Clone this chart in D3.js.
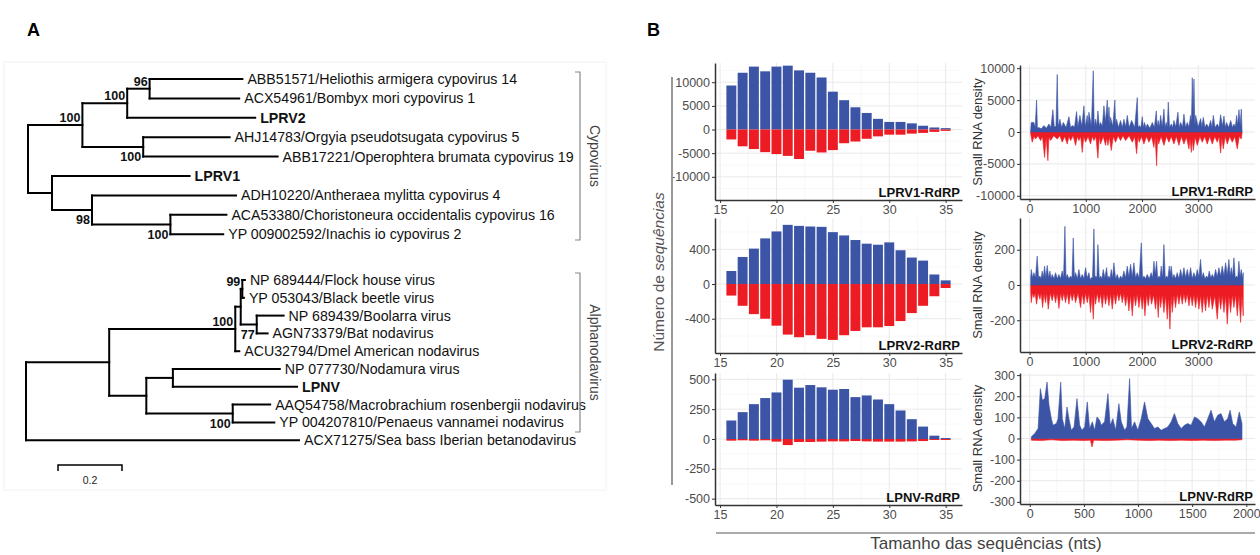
<!DOCTYPE html>
<html lang="pt">
<head>
<meta charset="UTF-8">
<title>Filogenia e perfis de pequenos RNAs</title>
<script src="https://cdn.jsdelivr.net/npm/d3@7"></script>
<style>
  body { margin: 0; background: #fff; }
  svg { font-family: "Liberation Sans", Arial, sans-serif; }
  .branch { fill: none; stroke: #000; stroke-width: 2px; stroke-linecap: square; }
  .leaf { font-size: 14.2px; fill: #111; }
  .leaf.bold { font-weight: bold; }
  .boot { font-size: 12.5px; font-weight: bold; fill: #111; }
  .bracket { fill: none; stroke: #888; stroke-width: 1.2px; }
  .clade { font-size: 14px; fill: #444; }
  .plabel { font-size: 18px; font-weight: bold; fill: #000; }
  .grid line { stroke: #e9e9e9; stroke-width: 1px; }
  .grid .domain { display: none; }
  .minor line { stroke: #f4f4f4; stroke-width: 0.6px; }
  .axis .domain { stroke: #333; stroke-width: 1.5px; }
  .axis line { stroke: #333; }
  .axis text { fill: #4d4d4d; font-size: 12.5px; font-family: "Liberation Sans", Arial, sans-serif; }
  .ptitle { font-size: 13px; font-weight: bold; fill: #111; }
  .ytitle { font-size: 13px; fill: #333; }
</style>
</head>
<body>
<svg id="fig" width="1260" height="555"></svg>
<script>

// ---- panel A: trees as [node, parent, branch length, bootstrap] ----
var cypoEdges = [
  ["root", "", 0, ""],
  ["n1", "root", 0.17, "100"],
  ["n2", "n1", 0.14, "100"],
  ["n3", "n2", 0.07, "96"],
  ["ABB51571/Heliothis armigera cypovirus 14", "n3", 0.29, ""],
  ["ACX54961/Bombyx mori cypovirus 1", "n3", 0.28, ""],
  ["LPRV2", "n2", 0.40, ""],
  ["n4", "n1", 0.19, "100"],
  ["AHJ14783/Orgyia pseudotsugata cypovirus 5", "n4", 0.27, ""],
  ["ABB17221/Operophtera brumata cypovirus 19", "n4", 0.42, ""],
  ["n5", "root", 0.075, ""],
  ["LPRV1", "n5", 0.43, ""],
  ["n6", "n5", 0.125, "98"],
  ["ADH10220/Antheraea mylitta cypovirus 4", "n6", 0.45, ""],
  ["n7", "n6", 0.245, "100"],
  ["ACA53380/Choristoneura occidentalis cypovirus 16", "n7", 0.175, ""],
  ["YP 009002592/Inachis io cypovirus 2", "n7", 0.165, ""]
];

var alphaEdges = [
  ["root", "", 0, ""],
  ["m1", "root", 0.26, ""],
  ["m2", "m1", 0.394, "100"],
  ["m3", "m2", 0.017, ""],
  ["m4", "m3", 0.005, "99"],
  ["NP 689444/Flock house virus", "m4", 0.008, ""],
  ["YP 053043/Black beetle virus", "m4", 0.005, ""],
  ["m5", "m3", 0.05, "77"],
  ["NP 689439/Boolarra virus", "m5", 0.084, ""],
  ["AGN73379/Bat nodavirus", "m5", 0.034, ""],
  ["ACU32794/Dmel American nodavirus", "m2", 0.0125, ""],
  ["m6", "m1", 0.116, ""],
  ["m7", "m6", 0.083, ""],
  ["NP 077730/Nodamura virus", "m7", 0.334, ""],
  ["LPNV", "m7", 0.388, ""],
  ["m8", "m6", 0.27, "100"],
  ["AAQ54758/Macrobrachium rosenbergii nodavirus", "m8", 0.117, ""],
  ["YP 004207810/Penaeus vannamei nodavirus", "m8", 0.13, ""],
  ["ACX71275/Sea bass Iberian betanodavirus", "root", 0.853, ""]
];

var boldLeaves = ["LPRV1", "LPRV2", "LPNV"];
var bootBelow = ["n4", "n6", "n7", "m5", "m8"];
var scaleBarValue = 0.2;

// ---- panel B: read counts by size (nt), sense (+) and antisense (-) ----
var sizes = [16,17,18,19,20,21,22,23,24,25,26,27,28,29,30,31,32,33,34,35];

var lprv1Pos = [9300,12000,13300,12300,13300,13500,12500,12000,11000,8000,6200,4700,3500,2250,1600,1600,1300,800,430,290];
var lprv1Neg = [-2100,-3550,-4130,-4780,-5200,-5580,-6230,-4490,-4850,-4350,-2900,-2540,-1960,-1450,-1090,-1090,-870,-720,-500,-290];

var lprv2Pos = [150,312,408,526,606,682,670,663,659,598,560,507,465,453,480,389,305,270,110,42];
var lprv2Neg = [-133,-251,-347,-400,-480,-583,-613,-590,-632,-644,-590,-541,-499,-499,-484,-427,-335,-251,-141,-46];

var lpnvPos = [155,225,292,343,390,497,430,452,433,413,419,351,365,331,292,239,166,104,28,8];
var lpnvNeg = [-14,-11,-14,-11,-22,-51,-25,-25,-22,-20,-20,-17,-20,-22,-22,-22,-20,-17,-8,-8];

// ---- panel B: small RNA density along the genome, [position, density] ----
var lprv1Sense = [[20,300],[30,1500],[77,1500],[100,700],[125,5000],[140,600],[166,700],[210,500],[255,1000],[300,600],[344,1250],[380,700],[415,3500],[440,800],[470,900],[492,9000],[510,800],[540,2000],[570,700],[600,1500],[650,700],[700,2400],[730,700],[760,1000],[800,800],[836,3200],[860,800],[896,2600],[930,900],[967,4100],[990,800],[1026,2600],[1040,1000],[1056,3100],[1100,900],[1133,9600],[1150,900],[1174,2000],[1195,900],[1216,3300],[1240,900],[1263,1500],[1295,900],[1323,4100],[1350,1500],[1382,5000],[1400,1500],[1412,3900],[1430,1000],[1441,2300],[1480,900],[1518,5000],[1530,1000],[1548,2000],[1580,700],[1619,1800],[1650,700],[1679,2000],[1710,800],[1738,2600],[1770,700],[1815,1800],[1870,700],[1916,5400],[1930,700],[1951,1000],[1980,700],[2005,2400],[2025,700],[2046,1500],[2070,600],[2094,1250],[2140,600],[2183,1500],[2220,700],[2254,3300],[2270,800],[2289,1800],[2310,800],[2331,2600],[2360,800],[2390,3600],[2410,700],[2432,1500],[2450,800],[2467,4700],[2490,700],[2521,1250],[2545,700],[2568,1800],[2600,800],[2639,3100],[2660,700],[2687,1500],[2720,800],[2746,2800],[2775,700],[2805,1500],[2835,800],[2865,2600],[2880,1500],[2894,8500],[2910,3000],[2924,8300],[2940,1000],[2954,2600],[3000,800],[3043,2100],[3065,800],[3090,2300],[3120,700],[3149,1250],[3185,700],[3221,1800],[3245,700],[3268,2600],[3300,700],[3339,1250],[3370,700],[3399,2700],[3430,900],[3458,2500],[3480,700],[3505,1500],[3540,700],[3577,1800],[3610,700],[3636,1250],[3660,800],[3683,2600],[3700,1000],[3725,3500],[3745,1000],[3766,3600],[3780,200]];
var lprv1Anti = [[20,-300],[47,-1600],[80,-700],[107,-1100],[150,-600],[196,-1350],[230,-700],[267,-4000],[295,-800],[326,-4500],[345,-800],[374,-1350],[430,-600],[492,-1100],[540,-600],[581,-1600],[625,-700],[670,-1900],[700,-700],[730,-1350],[775,-600],[819,-2100],[850,-700],[878,-1350],[910,-700],[937,-3200],[965,-700],[996,-1600],[1040,-700],[1085,-1900],[1115,-700],[1145,-1350],[1180,-700],[1216,-4100],[1240,-700],[1263,-1900],[1310,-700],[1352,-2100],[1372,-900],[1394,-2100],[1420,-800],[1453,-2900],[1490,-700],[1530,-1600],[1575,-600],[1619,-1350],[1660,-600],[1708,-1350],[1770,-600],[1827,-1600],[1870,-700],[1904,-3400],[1930,-700],[1951,-1600],[1990,-700],[2034,-1900],[2080,-700],[2123,-1600],[2170,-700],[2212,-2400],[2235,-800],[2260,-5300],[2278,-800],[2295,-1900],[2340,-700],[2390,-2100],[2435,-700],[2479,-1600],[2520,-700],[2568,-1900],[2610,-700],[2657,-2100],[2700,-700],[2746,-1900],[2790,-800],[2835,-2650],[2855,-1000],[2877,-3200],[2895,-1000],[2912,-2900],[2945,-800],[2983,-2100],[3030,-700],[3072,-1600],[3115,-700],[3161,-1900],[3205,-700],[3250,-1900],[3295,-700],[3339,-1600],[3370,-700],[3399,-3300],[3420,-900],[3446,-2650],[3480,-700],[3517,-1900],[3560,-700],[3606,-1600],[3650,-700],[3695,-2650],[3730,-700],[3766,-1100],[3780,-200]];

var lprv2Sense = [[20,40],[30,88],[55,40],[77,70],[105,40],[136,164],[160,40],[184,51],[205,35],[225,79],[245,40],[267,107],[290,40],[314,111],[340,40],[362,79],[383,35],[403,60],[435,35],[463,70],[495,35],[522,60],[550,35],[581,79],[605,40],[629,333],[648,40],[670,60],[700,35],[730,51],[755,40],[777,267],[797,40],[818,70],[850,35],[878,88],[907,35],[937,60],[967,35],[996,98],[1025,40],[1056,70],[1077,30],[1097,41],[1120,40],[1145,318],[1163,40],[1180,51],[1198,40],[1216,229],[1240,35],[1263,51],[1287,35],[1311,88],[1340,40],[1370,98],[1390,35],[1411,51],[1432,35],[1453,88],[1477,40],[1500,126],[1530,35],[1560,60],[1590,30],[1619,51],[1648,35],[1678,79],[1708,40],[1738,107],[1767,45],[1797,117],[1826,45],[1856,126],[1885,40],[1915,70],[1950,40],[1987,239],[2010,35],[2034,51],[2063,35],[2093,60],[2128,35],[2164,70],[2190,40],[2212,135],[2236,60],[2259,135],[2280,35],[2301,51],[2322,40],[2342,107],[2366,40],[2390,229],[2414,35],[2437,51],[2461,40],[2485,107],[2502,60],[2520,107],[2545,35],[2568,60],[2597,35],[2627,70],[2656,35],[2686,88],[2716,40],[2746,98],[2775,40],[2805,88],[2835,40],[2864,98],[2893,35],[2923,70],[2953,40],[2983,88],[3012,45],[3042,145],[3066,40],[3090,70],[3120,35],[3149,51],[3172,40],[3196,79],[3223,40],[3250,60],[3280,40],[3309,88],[3338,45],[3368,98],[3398,50],[3428,107],[3458,50],[3487,126],[3516,55],[3546,145],[3567,50],[3588,98],[3612,50],[3635,154],[3659,40],[3683,51],[3703,40],[3724,135],[3745,45],[3766,88],[3785,40],[3801,70]];
var lprv2Anti = [[20,-40],[30,-100],[54,-45],[77,-71],[100,-45],[124,-109],[155,-45],[184,-81],[208,-45],[231,-128],[258,-50],[284,-100],[308,-45],[332,-137],[368,-45],[403,-90],[433,-45],[463,-100],[493,-45],[522,-133],[552,-45],[581,-90],[610,-45],[640,-100],[670,-45],[700,-109],[730,-45],[759,-90],[790,-45],[818,-100],[862,-45],[907,-128],[937,-50],[967,-109],[996,-45],[1026,-100],[1056,-50],[1085,-156],[1110,-60],[1133,-194],[1155,-50],[1174,-109],[1204,-45],[1234,-100],[1264,-50],[1293,-128],[1322,-50],[1352,-109],[1382,-50],[1411,-118],[1441,-50],[1471,-137],[1500,-50],[1530,-109],[1560,-45],[1589,-90],[1620,-45],[1649,-100],[1678,-50],[1708,-118],[1738,-55],[1767,-147],[1797,-55],[1827,-175],[1856,-55],[1886,-118],[1915,-50],[1945,-128],[1975,-55],[2004,-137],[2028,-60],[2052,-175],[2082,-55],[2111,-118],[2140,-50],[2171,-109],[2205,-55],[2242,-137],[2265,-60],[2289,-184],[2310,-60],[2331,-128],[2360,-55],[2390,-156],[2420,-60],[2449,-194],[2473,-70],[2497,-250],[2518,-60],[2538,-156],[2568,-55],[2597,-128],[2627,-50],[2657,-109],[2686,-50],[2716,-109],[2745,-50],[2775,-100],[2805,-50],[2835,-118],[2865,-55],[2894,-118],[2924,-55],[2953,-128],[2983,-55],[3012,-137],[3042,-60],[3072,-156],[3100,-60],[3131,-147],[3160,-55],[3190,-128],[3220,-55],[3250,-137],[3295,-60],[3339,-194],[3370,-60],[3399,-137],[3428,-60],[3458,-156],[3488,-60],[3517,-222],[3546,-60],[3576,-156],[3605,-55],[3635,-128],[3665,-55],[3695,-175],[3724,-60],[3754,-212],[3778,-60],[3801,-175]];

var lpnvSense = [[15,8],[46,24],[77,47],[98,236],[117,181],[138,189],[160,267],[178,157],[200,94],[215,63],[246,71],[261,94],[286,267],[301,94],[323,47],[344,149],[362,94],[384,39],[409,55],[436,189],[461,63],[482,39],[507,55],[531,173],[553,47],[578,79],[599,39],[621,102],[645,86],[660,63],[691,79],[722,212],[743,63],[768,94],[793,39],[823,165],[845,79],[876,39],[897,55],[922,283],[940,47],[968,79],[998,39],[1029,94],[1060,173],[1091,94],[1121,71],[1152,47],[1183,55],[1213,39],[1244,47],[1275,55],[1306,79],[1336,118],[1367,71],[1398,47],[1428,63],[1459,71],[1490,63],[1521,102],[1551,94],[1582,79],[1613,55],[1644,94],[1674,134],[1705,79],[1736,110],[1766,118],[1797,79],[1828,94],[1850,134],[1874,71],[1905,55],[1935,126],[1960,71]];
var lpnvAnti = [[15,-8],[100,-10],[200,-6],[300,-10],[400,-8],[500,-10],[560,-8],[575,-40],[590,-8],[700,-10],[800,-8],[900,-6],[1000,-8],[1100,-10],[1200,-8],[1300,-10],[1400,-8],[1500,-10],[1600,-8],[1700,-10],[1800,-8],[1900,-8],[1960,-6]];

var BLUE = "#3b54a5", RED = "#ed1c24";
var fmt = function(d) { return String(d); };

var svg = d3.select("#fig");

svg.append("text").attr("class", "plabel").attr("x", 27).attr("y", 36).text("A");
svg.append("text").attr("class", "plabel").attr("x", 647).attr("y", 36).text("B");

// faint frame around the trees
svg.append("rect").attr("x", 4).attr("y", 62).attr("width", 602).attr("height", 428)
   .attr("fill", "none").attr("stroke", "#f2f2f2");

function drawTree(edges, o) {
  var root = d3.stratify()
    .id(function(d) { return d[0]; })
    .parentId(function(d) { return d[1] || null; })(edges);

  root.eachBefore(function(n) { n.len = n.parent ? n.parent.len + n.data[2] : 0; });

  var x = d3.scaleLinear().domain([0, 1]).range([o.x0, o.x0 + 320]);
  var y = d3.scalePoint().domain(root.leaves().map(function(d) { return d.id; })).range([o.y0, o.y1]);

  root.eachAfter(function(n) {
    n.py = n.children ? (n.children[0].py + n.children[n.children.length - 1].py) / 2 : y(n.id);
  });

  var g = svg.append("g");

  root.descendants().forEach(function(n) {
    if (n.parent) {
      g.append("path").attr("class", "branch")
       .attr("d", "M" + x(n.parent.len) + "," + n.py + "H" + x(n.len));
    }
    if (n.children) {
      g.append("path").attr("class", "branch")
       .attr("d", "M" + x(n.len) + "," + n.children[0].py + "V" + n.children[n.children.length - 1].py);
    }
  });

  root.leaves().forEach(function(n) {
    g.append("text")
     .attr("class", boldLeaves.indexOf(n.id) > -1 ? "leaf bold" : "leaf")
     .attr("x", x(n.len) + 5)
     .attr("y", n.py + 5)
     .text(n.id);
  });

  root.descendants().filter(function(n) { return n.data[3]; }).forEach(function(n) {
    var below = bootBelow.indexOf(n.id) > -1;
    g.append("text").attr("class", "boot")
     .attr("text-anchor", "end")
     .attr("x", x(n.len) - 2)
     .attr("y", below ? n.py + 14 : n.py - 3)
     .text(n.data[3]);
  });

  // clade bracket
  var b = o.bracket;
  g.append("path").attr("class", "bracket")
   .attr("d", "M" + (b[0] - 5) + "," + b[1] + "H" + b[0] + "V" + b[2] + "H" + (b[0] - 5));
  g.append("text").attr("class", "clade")
   .attr("text-anchor", "middle")
   .attr("transform", "translate(" + (b[0] + 10) + "," + ((b[1] + b[2]) / 2) + ") rotate(90)")
   .text(o.clade);

  return x;
}

drawTree(cypoEdges, { x0: 28, y0: 79, y1: 234.2, bracket: [580, 72, 240], clade: "Cypovirus" });
var tx = drawTree(alphaEdges, { x0: 26, y0: 280, y1: 440.2, bracket: [580, 273, 432], clade: "Alphanodavirus" });

// scale bar
var sb0 = 58, sb1 = 58 + (tx(scaleBarValue) - tx(0));
svg.append("path").attr("fill", "none").attr("stroke", "#000").attr("stroke-width", 1.5)
   .attr("d", "M" + sb0 + ",471V465H" + sb1 + "V471");
svg.append("text").attr("x", (sb0 + sb1) / 2).attr("y", 484).attr("text-anchor", "middle")
   .attr("font-size", 10.5).attr("fill", "#222").text(scaleBarValue);

// ---- panel B helpers ----
function grid(g, x, y, xMajor, xMinor, yMajor, yMinor) {
  var x0 = x.range()[0], x1 = x.range()[1], y0 = y.range()[0], y1 = y.range()[1];
  var gm = g.append("g").attr("class", "minor");
  xMinor.forEach(function(v) { gm.append("line").attr("x1", x(v)).attr("x2", x(v)).attr("y1", y0).attr("y2", y1); });
  yMinor.forEach(function(v) { gm.append("line").attr("x1", x0).attr("x2", x1).attr("y1", y(v)).attr("y2", y(v)); });
  var gM = g.append("g").attr("class", "grid");
  xMajor.forEach(function(v) { gM.append("line").attr("x1", x(v)).attr("x2", x(v)).attr("y1", y0).attr("y2", y1); });
  yMajor.forEach(function(v) { gM.append("line").attr("x1", x0).attr("x2", x1).attr("y1", y(v)).attr("y2", y(v)); });
}

function axes(g, x, y, xTicks, yTicks, title) {
  g.append("g").attr("class", "axis")
   .attr("transform", "translate(0," + y.range()[0] + ")")
   .call(d3.axisBottom(x).tickValues(xTicks).tickFormat(fmt).tickSize(3).tickSizeOuter(0).tickPadding(2));
  g.append("g").attr("class", "axis")
   .attr("transform", "translate(" + x.range()[0] + ",0)")
   .call(d3.axisLeft(y).tickValues(yTicks).tickFormat(fmt).tickSize(3).tickSizeOuter(0).tickPadding(2));
  g.append("text").attr("class", "ptitle").attr("text-anchor", "end")
   .attr("x", x.range()[1] - 2).attr("y", y.range()[0] - 3).text(title);
}

function barChart(c) {
  var g = svg.append("g");
  var x = d3.scaleLinear().domain([14.55, 36.45]).range([715, 962]);
  var y = d3.scaleLinear().domain(c.yDomain).range([c.bottom, c.top]);
  grid(g, x, y, [15, 20, 25, 30, 35], [17.5, 22.5, 27.5, 32.5], c.yTicks, c.yMinor);

  sizes.forEach(function(s, i) {
    var bx = x(s - 0.44), bw = x(s + 0.44) - x(s - 0.44);
    g.append("rect").attr("x", bx).attr("width", bw)
     .attr("y", y(c.pos[i])).attr("height", y(0) - y(c.pos[i])).attr("fill", BLUE);
    g.append("rect").attr("x", bx).attr("width", bw)
     .attr("y", y(0)).attr("height", y(c.neg[i]) - y(0)).attr("fill", RED);
  });

  axes(g, x, y, [15, 20, 25, 30, 35], c.yTicks, c.title);
}

function densityChart(c) {
  var g = svg.append("g");
  var x = d3.scaleLinear().domain(c.xDomain).range([1020, 1255]);
  var y = d3.scaleLinear().domain(c.yDomain).range([c.bottom, c.top]);
  grid(g, x, y, c.xTicks, c.xMinor, c.yTicks, c.yMinor);

  var area = d3.area()
    .x(function(d) { return x(d[0]); })
    .y0(y(0))
    .y1(function(d) { return y(d[1]); });

  g.append("path").datum(c.anti).attr("d", area)
   .attr("fill", RED).attr("stroke", RED).attr("stroke-width", 0.6);
  g.append("path").datum(c.sense).attr("d", area)
   .attr("fill", BLUE).attr("stroke", BLUE).attr("stroke-width", 0.6);

  axes(g, x, y, c.xTicks, c.yTicks, c.title);

  g.append("text").attr("class", "ytitle").attr("text-anchor", "middle")
   .attr("transform", "translate(982," + ((c.top + c.bottom) / 2) + ") rotate(-90)")
   .text("Small RNA density");
}

barChart({ top: 63, bottom: 200, yDomain: [-14900, 14060], yTicks: [-10000, -5000, 0, 5000, 10000],
           yMinor: [-12500, -7500, -2500, 2500, 7500, 12500], pos: lprv1Pos, neg: lprv1Neg, title: "LPRV1-RdRP" });
barChart({ top: 218, bottom: 353, yDomain: [-795, 761], yTicks: [-400, 0, 400],
           yMinor: [-600, -200, 200, 600], pos: lprv2Pos, neg: lprv2Neg, title: "LPRV2-RdRP" });
barChart({ top: 373, bottom: 505, yDomain: [-553, 553], yTicks: [-500, -250, 0, 250, 500],
           yMinor: [-375, -125, 125, 375], pos: lpnvPos, neg: lpnvNeg, title: "LPNV-RdRP" });

densityChart({ top: 65, bottom: 199, xDomain: [-170, 4010], yDomain: [-10500, 10500],
               xTicks: [0, 1000, 2000, 3000], xMinor: [500, 1500, 2500, 3500],
               yTicks: [-10000, -5000, 0, 5000, 10000], yMinor: [-7500, -2500, 2500, 7500],
               sense: lprv1Sense, anti: lprv1Anti, title: "LPRV1-RdRP" });
densityChart({ top: 218, bottom: 352, xDomain: [-170, 4010], yDomain: [-380, 380],
               xTicks: [0, 1000, 2000, 3000], xMinor: [500, 1500, 2500, 3500],
               yTicks: [-200, 0, 200], yMinor: [-300, -100, 100, 300],
               sense: lprv2Sense, anti: lprv2Anti, title: "LPRV2-RdRP" });
densityChart({ top: 373, bottom: 504, xDomain: [-90, 2080], yDomain: [-310, 310],
               xTicks: [0, 500, 1000, 1500, 2000], xMinor: [250, 750, 1250, 1750],
               yTicks: [-300, -200, -100, 0, 100, 200, 300], yMinor: [-250, -150, -50, 50, 150, 250],
               sense: lpnvSense, anti: lpnvAnti, title: "LPNV-RdRP" });

// shared axis titles for panel B
svg.append("line").attr("x1", 672).attr("x2", 672).attr("y1", 77).attr("y2", 485)
   .attr("stroke", "#999").attr("stroke-width", 2);
var yl = svg.append("text").attr("text-anchor", "middle")
   .attr("transform", "translate(664,272) rotate(-90)")
   .attr("font-size", 15.5).attr("fill", "#555");
yl.append("tspan").text("Número de ");
yl.append("tspan").attr("font-style", "italic").text("sequências");

svg.append("line").attr("x1", 716).attr("x2", 1255).attr("y1", 533).attr("y2", 533)
   .attr("stroke", "#aaa").attr("stroke-width", 2);
svg.append("text").attr("x", 986).attr("y", 549).attr("text-anchor", "middle")
   .attr("font-size", 17).attr("fill", "#444").text("Tamanho das sequências (nts)");

</script>
</body>
</html>
